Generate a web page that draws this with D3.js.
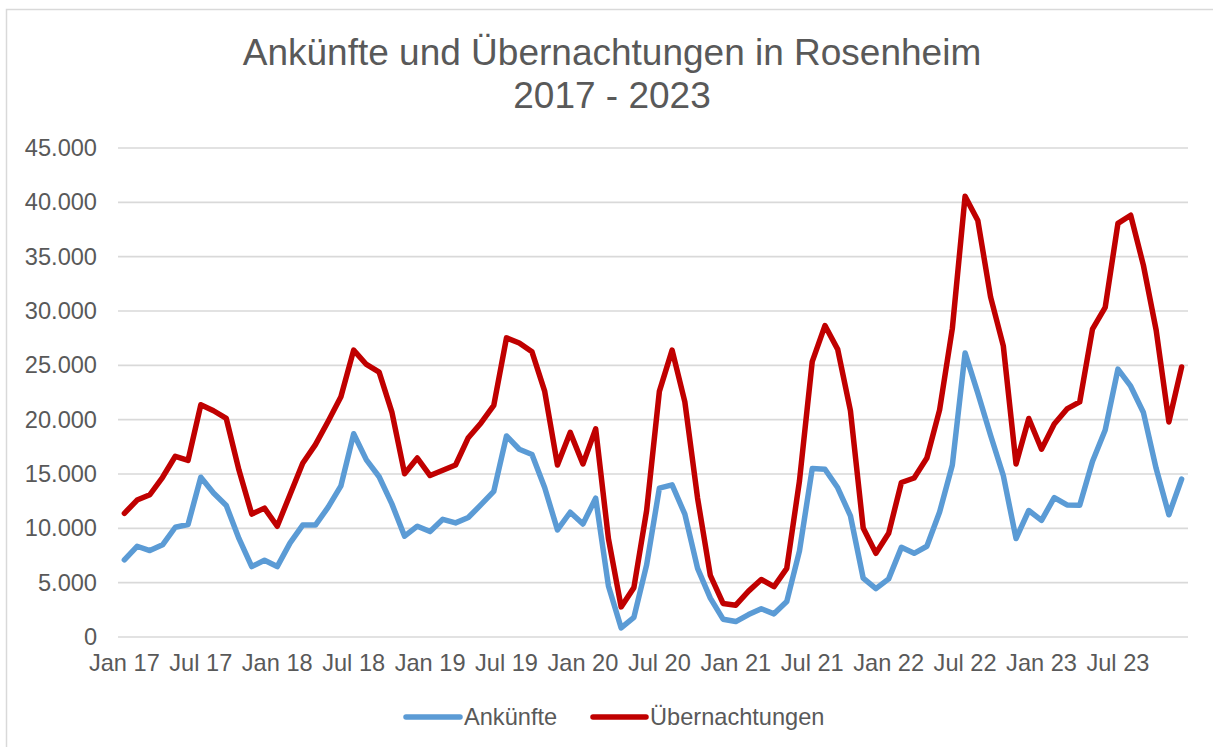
<!DOCTYPE html>
<html>
<head>
<meta charset="utf-8">
<script src="https://cdn.jsdelivr.net/npm/d3@7/dist/d3.min.js"></script>
<style>
  html, body { margin: 0; padding: 0; background: #fff; }
  svg { display: block; }
  text { font-family: "Liberation Sans", Arial, sans-serif; fill: #595959; }
</style>
</head>
<body>
<svg id="chart" width="1213" height="747"></svg>
<script>
// ---- data ----
const years = ["17", "18", "19", "20", "21", "22", "23"];
const monthNames = ["Jan", "Feb", "Mär", "Apr", "Mai", "Jun", "Jul", "Aug", "Sep", "Okt", "Nov", "Dez"];
const categories = years.flatMap(y => monthNames.map(m => m + " " + y));

const ankuenfte = [
  7100, 8350, 7950, 8480, 10100, 10350, 14700, 13250, 12100, 9050, 6480, 7060,
  6480, 8640, 10300, 10300, 11950, 13900, 18700, 16300, 14750, 12250, 9280, 10200,
  9700, 10830, 10500, 11000, 12180, 13400, 18500, 17280, 16800, 13730, 9860, 11480,
  10400, 12770, 4700, 840, 1800, 6640, 13700, 14000, 11300, 6320, 3580, 1640,
  1420, 2060, 2600, 2130, 3260, 7930, 15500, 15440, 13730, 11150, 5420, 4450,
  5350, 8250, 7700, 8350, 11500, 15830, 26140, 22440, 18570, 14860, 9060, 11640,
  10730, 12830, 12150, 12120, 16150, 19050, 24650, 23080, 20660, 15500, 11250, 14540
];
const uebernachtungen = [
  11380, 12600, 13090, 14700, 16630, 16250, 21370, 20820, 20110, 15340, 11310, 11860,
  10190, 13090, 15990, 17700, 19860, 22110, 26400, 25080, 24370, 20700, 15020, 16470,
  14860, 15340, 15830, 18340, 19700, 21310, 27530, 27050, 26240, 22600, 15830, 18830,
  15920, 19150, 9060, 2770, 4545, 11640, 22600, 26400, 21630, 12770, 5670, 3090,
  2930, 4220, 5290, 4640, 6320, 14380, 25340, 28660, 26470, 20820, 10030, 7700,
  9540, 14220, 14630, 16470, 20900, 28400, 40550, 38330, 31300, 26790, 15920, 20110,
  17280, 19600, 20990, 21630, 28330, 30330, 38070, 38810, 34200, 28240, 19790, 24850
];
const xTickLabels = ["Jan 17", "Jul 17", "Jan 18", "Jul 18", "Jan 19", "Jul 19", "Jan 20",
  "Jul 20", "Jan 21", "Jul 21", "Jan 22", "Jul 22", "Jan 23", "Jul 23"];
const yTicks = [0, 5000, 10000, 15000, 20000, 25000, 30000, 35000, 40000, 45000];
const seriesNames = ["Ankünfte", "Übernachtungen"];
const titleLines = ["Ankünfte und Übernachtungen in Rosenheim", "2017 - 2023"];

// ---- layout ----
const colors = ["#5B9BD5", "#C00000"];
const plot = { left: 118, right: 1188, top: 148, bottom: 637 };

const svg = d3.select("#chart");

// chart border
svg.append("rect")
  .attr("x", 6.5).attr("y", 9.5)
  .attr("width", 1400).attr("height", 900)
  .attr("fill", "#fff").attr("stroke", "#D9D9D9").attr("stroke-width", 1.5);

// title
svg.append("text")
  .attr("x", 612).attr("y", 65)
  .attr("text-anchor", "middle")
  .style("font-size", "37px")
  .text(titleLines[0]);
svg.append("text")
  .attr("x", 612).attr("y", 108)
  .attr("text-anchor", "middle")
  .style("font-size", "37px")
  .text(titleLines[1]);

const x = d3.scaleBand()
  .domain(d3.range(categories.length))
  .range([plot.left, plot.right]);
const xc = i => x(i) + x.bandwidth() / 2;

const y = d3.scaleLinear()
  .domain([0, 45000])
  .range([plot.bottom, plot.top]);

const de = d3.formatLocale({ decimal: ",", thousands: ".", grouping: [3], currency: ["", " €"] });
const fmt = de.format(",.0f");

// gridlines
svg.append("g")
  .selectAll("line")
  .data(yTicks)
  .join("line")
  .attr("x1", plot.left).attr("x2", plot.right)
  .attr("y1", d => y(d)).attr("y2", d => y(d))
  .attr("stroke", "#D9D9D9")
  .attr("stroke-width", 1.6);

// y axis
const yAxis = svg.append("g")
  .attr("transform", `translate(${plot.left},0)`)
  .call(d3.axisLeft(y).tickValues(yTicks).tickFormat(fmt).tickSize(0).tickPadding(21));
yAxis.select(".domain").remove();
yAxis.selectAll("text")
  .style("font-size", "23.6px")
  .style("font-family", '"Liberation Sans", Arial, sans-serif')
  .attr("fill", "#595959");

// x axis
const tickIdx = d3.range(0, categories.length, 6);
const xAxis = svg.append("g")
  .attr("transform", `translate(0,${plot.bottom})`)
  .call(d3.axisBottom(x)
    .tickValues(tickIdx)
    .tickFormat((d, i) => xTickLabels[i])
    .tickSize(0).tickPadding(17));
xAxis.select(".domain").remove();
xAxis.selectAll("text")
  .style("font-size", "23.6px")
  .style("font-family", '"Liberation Sans", Arial, sans-serif')
  .attr("fill", "#595959");

// lines
const line = d3.line()
  .x((d, i) => xc(i))
  .y(d => y(d));

[ankuenfte, uebernachtungen].forEach((series, k) => {
  svg.append("path")
    .datum(series)
    .attr("d", line)
    .attr("fill", "none")
    .attr("stroke", colors[k])
    .attr("stroke-width", 5.5)
    .attr("stroke-linejoin", "round")
    .attr("stroke-linecap", "round");
});

// legend
const legendItems = [
  { name: seriesNames[0], color: colors[0], x1: 406, x2: 460, tx: 464 },
  { name: seriesNames[1], color: colors[1], x1: 593, x2: 646, tx: 650 }
];
const ly = 717;
const lg = svg.append("g");
legendItems.forEach(it => {
  lg.append("line")
    .attr("x1", it.x1).attr("x2", it.x2)
    .attr("y1", ly).attr("y2", ly)
    .attr("stroke", it.color)
    .attr("stroke-width", 5.5)
    .attr("stroke-linecap", "round");
  lg.append("text")
    .attr("x", it.tx).attr("y", ly)
    .attr("dy", "0.36em")
    .style("font-size", "23.6px")
    .text(it.name);
});
</script>
</body>
</html>
